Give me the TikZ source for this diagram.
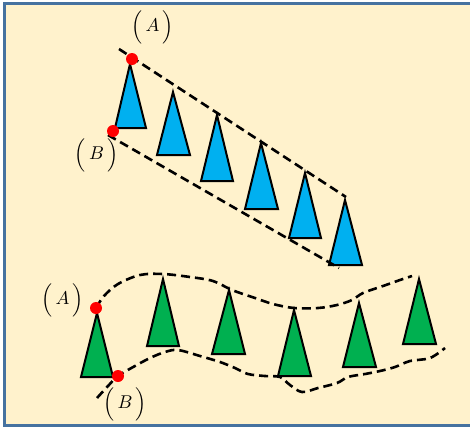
\documentclass[tikz,border=0pt]{standalone}
\definecolor{bgcream}{RGB}{255,242,204}
\definecolor{framecol}{RGB}{70,114,160}
\definecolor{triblue}{RGB}{0,176,240}
\definecolor{trigreen}{RGB}{0,176,80}
\newcommand\plab[1]{$\Big(\mkern3mu #1\mkern3mu\Big)$}
\tikzset{
  bluetri/.style={draw=black, fill=triblue, line width=2pt, line join=miter},
  greentri/.style={draw=black, fill=trigreen, line width=2pt, line join=miter},
  guide/.style={draw=black, line width=2.6pt, dash pattern=on 9pt off 5pt},
  reddot/.style={fill=red},
  lab/.style={inner sep=0pt, anchor=center, scale=1.85}
}
\begin{document}
\begin{tikzpicture}[x=1pt, y=-1pt]
\useasboundingbox (0,0) rectangle (470,429);
\clip (0,0) rectangle (470,429);
\fill[white] (0,0) rectangle (470,429);
\fill[bgcream] (4.5,3.5) rectangle (480,425.5);
\draw[framecol, line width=3pt] (4.5,3.5) rectangle (480,425.5);

% ---- upper row (blue) ----
\draw[bluetri] (130,64) -- (146,128) -- (115,128) -- cycle;
\draw[bluetri] (173,92) -- (190,155) -- (157,155) -- cycle;
\draw[bluetri] (217,115) -- (233,181) -- (201,181) -- cycle;
\draw[bluetri] (261,143) -- (278,209) -- (245,209) -- cycle;
\draw[bluetri] (305,173) -- (321,238) -- (289,238) -- cycle;
\draw[bluetri] (345,200) -- (362,265) -- (329,265) -- cycle;

\coordinate (uA0) at (119,49);
\coordinate (uA1) at (346,197);
\coordinate (uB0) at (108,135);
\coordinate (uB1) at (339,268);
\draw[guide] (uA0) -- (uA1);
\draw[guide] (uB0) -- (uB1);

\coordinate (dotA1) at (132,59);
\coordinate (dotB1) at (113,131);
\fill[reddot] (dotA1) circle (6);
\fill[reddot] (dotB1) circle (6);
\node[lab] (labA1) at (152.5,27) {\plab{A}};
\node[lab] (labB1) at (96.5,155) {\plab{B}};

% ---- lower row (green) ----
\draw[greentri] (97,313) -- (113,377) -- (81,377) -- cycle;
\draw[greentri] (163,279) -- (179,346) -- (147,346) -- cycle;
\draw[greentri] (229,290) -- (245,354) -- (212,354) -- cycle;
\draw[greentri] (294,310) -- (311,376) -- (278,376) -- cycle;
\draw[greentri] (359,303) -- (376,367) -- (343,367) -- cycle;
\draw[greentri] (419,279) -- (436,344) -- (403,344) -- cycle;

\draw[guide] plot[smooth, tension=0.55] coordinates {
  (96,308) (104,296) (118,284) (140,275) (163,274) (190,277) (213,281)
  (232,290) (255,298) (273,304) (294,308) (318,308) (337,305) (352,300)
  (363,293) (383,286) (400,280) (412,276)};
\draw[guide] plot[smooth, tension=0.55] coordinates {
  (97,398) (108,386) (118,376) (135,366) (150,358) (165,352) (178,350)
  (200,356) (220,362) (235,368) (248,374) (265,376) (280,377) (290,385)
  (302,392) (318,388) (337,383) (348,377) (365,374) (380,371) (395,367)
  (410,361) (430,358) (445,348)};

\coordinate (dotA2) at (96,308);
\coordinate (dotB2) at (118,376);
\fill[reddot] (dotA2) circle (6);
\fill[reddot] (dotB2) circle (6);
\node[lab] (labA2) at (62.5,300) {\plab{A}};
\node[lab] (labB2) at (125,404) {\plab{B}};
\end{tikzpicture}
\end{document}
